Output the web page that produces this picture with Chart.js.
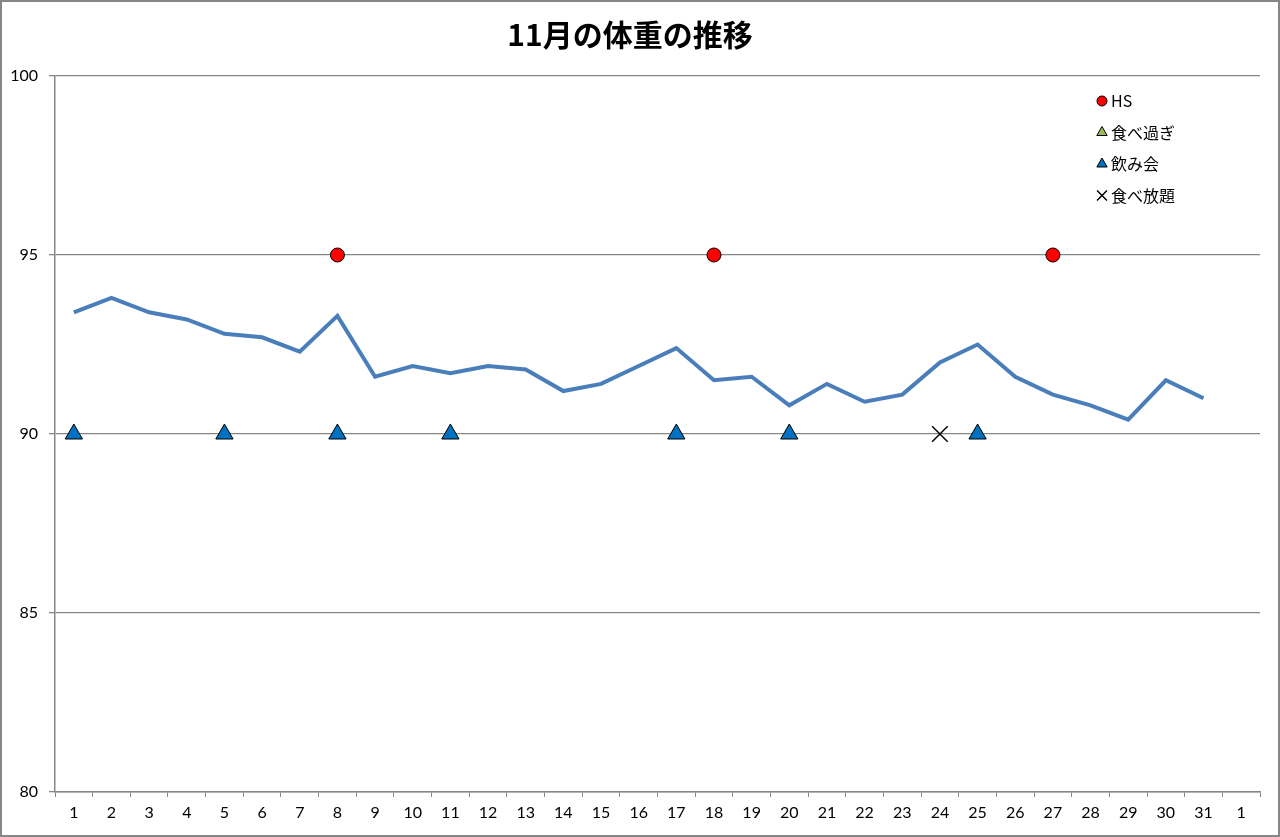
<!DOCTYPE html>
<html>
<head>
<meta charset="utf-8">
<script src="https://cdn.jsdelivr.net/npm/chart.js@4/dist/chart.umd.min.js"></script>
<style>
  html, body { margin: 0; padding: 0; background: #fff; }
  #wrap { width: 1280px; height: 837px; position: relative; }
</style>
</head>
<body>
<div id="wrap"><canvas id="chart"></canvas></div>
<script>
"use strict";
const N = null;
// x labels (the last one is 1 Dec, no data)
const days = ["1", "2", "3", "4", "5", "6", "7", "8", "9", "10", "11", "12", "13", "14", "15", "16",
  "17", "18", "19", "20", "21", "22", "23", "24", "25", "26", "27", "28", "29", "30", "31", "1"];
const weight = [93.4, 93.8, 93.4, 93.2, 92.8, 92.7, 92.3, 93.3, 91.6, 91.9, 91.7, 91.9, 91.8, 91.2, 91.4, 91.9,
  92.4, 91.5, 91.6, 90.8, 91.4, 90.9, 91.1, 92.0, 92.5, 91.6, 91.1, 90.8, 90.4, 91.5, 91.0, N];
// event markers
const hs = [N, N, N, N, N, N, N, 95, N, N, N, N, N, N, N, N,
  N, 95, N, N, N, N, N, N, N, N, 95, N, N, N, N, N];
const overeating = [N, N, N, N, N, N, N, N, N, N, N, N, N, N, N, N,
  N, N, N, N, N, N, N, N, N, N, N, N, N, N, N, N];
const drinkingParty = [90, N, N, N, 90, N, N, 90, N, N, 90, N, N, N, N, N,
  90, N, N, 90, N, N, N, N, 90, N, N, N, N, N, N, N];
const buffet = [N, N, N, N, N, N, N, N, N, N, N, N, N, N, N, N,
  N, N, N, N, N, N, N, 90, N, N, N, N, N, N, N, N];
const yTicks = [80, 85, 90, 95, 100];

const GRAY = "#868686";
const JP_FONT = "'Noto Sans CJK JP', 'Noto Sans', sans-serif";
const NUM_FONT = "Lato, 'Noto Sans', sans-serif";

function markerSet(label, data, style, color, radius, border, borderWidth) {
    return {
        label: label,
        data: data,
        showLine: false,
        pointStyle: style,
        pointRadius: radius,
        pointHoverRadius: radius,
        pointBackgroundColor: color,
        pointBorderColor: border,
        pointBorderWidth: borderWidth,
        backgroundColor: color,
        borderColor: border,
        borderWidth: borderWidth,
    };
}

// white background + outer gray frame
const frame = {
    id: "frame",
    beforeDraw(chart) {
        const ctx = chart.ctx;
        ctx.save();
        ctx.fillStyle = "#fff";
        ctx.fillRect(0, 0, chart.width, chart.height);
        ctx.strokeStyle = GRAY;
        ctx.lineWidth = 2;
        ctx.strokeRect(1, 1, chart.width - 2, chart.height - 2);
        ctx.restore();
    },
};

// legend drawn inside the plot area, top right, one entry per row
const innerLegend = {
    id: "innerLegend",
    afterDraw(chart) {
        const ctx = chart.ctx;
        const x0 = chart.chartArea.right - 158;
        let y = chart.chartArea.top + 25;
        ctx.save();
        ctx.font = "16px " + JP_FONT;
        ctx.textBaseline = "middle";
        ctx.fillStyle = "#000";
        chart.data.datasets.forEach((ds) => {
            if (!ds.legend) return;
            ctx.fillStyle = ds.pointBackgroundColor;
            ctx.strokeStyle = ds.pointBorderColor;
            ctx.lineWidth = ds.pointBorderWidth;
            Chart.helpers.drawPoint(ctx, {
                pointStyle: ds.pointStyle,
                radius: ds.legendRadius,
                borderWidth: ds.pointBorderWidth,
                rotation: 0,
            }, x0, y);
            ctx.fillStyle = "#000";
            ctx.fillText(ds.label, x0 + 9, y);
            y += 31.5;
        });
        ctx.restore();
    },
};

const datasets = [
    {
        label: "体重",
        data: weight,
        borderColor: "#4a7ebb",
        backgroundColor: "#4a7ebb",
        borderWidth: 4,
        pointRadius: 0,
        tension: 0,
        spanGaps: false,
    },
    Object.assign(markerSet("HS", hs, "circle", "#ff0000", 7, "#000", 1), { legend: true, legendRadius: 5 }),
    Object.assign(markerSet("食べ過ぎ", overeating, "triangle", "#9bbb59", 10, "#000", 1), { legend: true, legendRadius: 6 }),
    Object.assign(markerSet("飲み会", drinkingParty, "triangle", "#0070c0", 10, "#000", 1), { legend: true, legendRadius: 6 }),
    Object.assign(markerSet("食べ放題", buffet, "crossRot", "#000", 11, "#000", 1.5), { legend: true, legendRadius: 7 }),
];

new Chart(document.getElementById("chart"), {
    type: "line",
    data: { labels: days, datasets: datasets },
    plugins: [frame, innerLegend],
    options: {
        responsive: true,
        maintainAspectRatio: false,
        animation: false,
        events: [],
        layout: { padding: { left: 0, right: 20, top: 0, bottom: 0 } },
        plugins: {
            legend: { display: false },
            tooltip: { enabled: false },
            title: {
                display: true,
                text: "11月の体重の推移",
                color: "#000",
                font: { family: JP_FONT, size: 30, weight: "bold" },
                padding: { top: 17, bottom: 23 },
            },
        },
        scales: {
            x: {
                offset: true,
                afterFit(scale) { scale.height = 45; },
                grid: {
                    offset: true,
                    drawOnChartArea: false,
                    drawTicks: true,
                    tickLength: 5,
                    color: GRAY,
                },
                border: { color: GRAY, width: 1.5 },
                ticks: {
                    color: "#000",
                    font: { family: NUM_FONT, size: 16 },
                    padding: 6,
                    maxRotation: 0,
                    autoSkip: false,
                },
            },
            y: {
                min: 80,
                max: 100,
                afterFit(scale) { scale.width = 55; },
                afterBuildTicks(scale) { scale.ticks = yTicks.map((v) => ({ value: v })); },
                grid: { color: GRAY, lineWidth: 1.3, tickLength: 6 },
                border: { color: GRAY, width: 1.5 },
                ticks: {
                    color: "#000",
                    font: { family: NUM_FONT, size: 16 },
                    padding: 11,
                },
            },
        },
    },
});
</script>
</body>
</html>
